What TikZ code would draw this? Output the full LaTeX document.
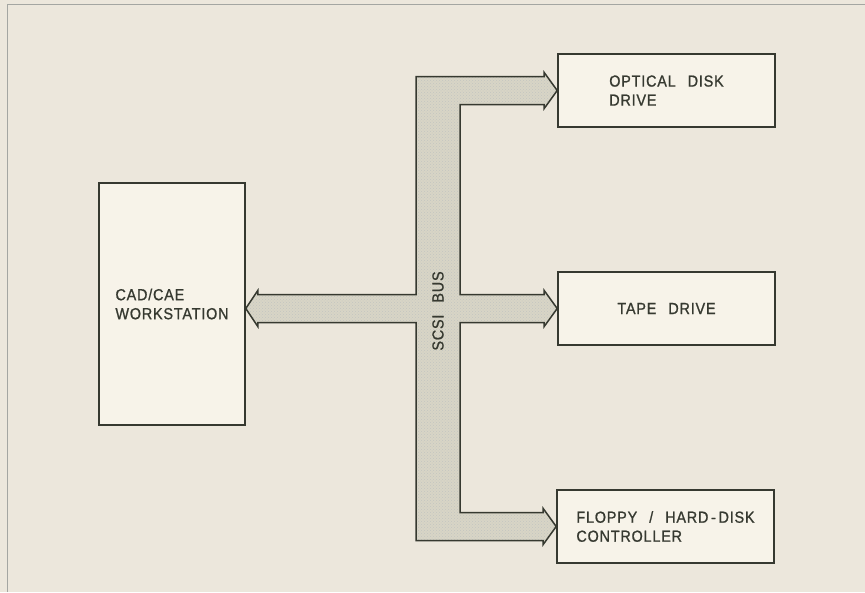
\documentclass[tikz,border=0pt]{standalone}
\usepackage{fontspec}
\newfontfamily\labelfont{Liberation Sans}[LetterSpace=5,WordSpace=2.5,FakeStretch=0.9,FakeBold=1]
\usetikzlibrary{backgrounds,calc,patterns}
\definecolor{paper}{RGB}{236,231,220}
\definecolor{boxfill}{RGB}{247,243,233}
\definecolor{busfill}{RGB}{216,213,198}
\definecolor{ink}{RGB}{54,57,48}

\begin{document}
\begin{tikzpicture}[x=1pt,y=-1pt,
  unit/.style={draw=ink,fill=boxfill,line width=1.6pt,minimum width=217pt,minimum height=73pt,
    align=left,text=ink,font=\labelfont\fontsize{16}{19}\selectfont},
  bus/.style={draw=ink,line width=1.5pt,line join=miter,preaction={fill=busfill},
    pattern=crosshatch dots,pattern color=ink!30}]
\useasboundingbox (0,0) rectangle (865,592);
\node[unit,minimum width=146pt,minimum height=242pt] (ws) at (172,304) {CAD/CAE\\WORKSTATION};
\node[unit] (opt) at (666.5,90.5) {OPTICAL DISK\\DRIVE};
\node[unit] (tape) at (666.5,308.5) {TAPE DRIVE};
\node[unit] (fdc) at (665.5,526.5) {FLOPPY / HARD\,-\,DISK\\CONTROLLER};
\coordinate (bl) at (416,0);
\coordinate (br) at (460,0);
\coordinate (wtip) at (ws.east |- tape.west);
\begin{scope}[on background layer]
\fill[paper] (0,0) rectangle (865,592);
\draw[ink!45,line width=.8pt] (7,592)--(7,4)--(865,4);
% the bus
\draw[bus] ($(bl|-opt.west)+(0,-14)$) -- ($(opt.west)+(-13,-14)$) -- ++(0,-4) -- (opt.west) -- ++(-13,18) -- ++(0,-4)
  -- ($(br|-opt.west)+(0,14)$) -- ($(br|-tape.west)+(0,-14)$)
  -- ($(tape.west)+(-13,-14)$) -- ++(0,-4) -- (tape.west) -- ++(-13,18) -- ++(0,-4)
  -- ($(br|-tape.west)+(0,14)$) -- ($(br|-fdc.west)+(0,-14)$)
  -- ($(fdc.west)+(-13,-14)$) -- ++(0,-4) -- (fdc.west) -- ++(-13,18) -- ++(0,-4)
  -- ($(bl|-fdc.west)+(0,14)$) -- ($(bl|-tape.west)+(0,14)$)
  -- ($(wtip)+(12,14)$) -- ++(0,4) -- (wtip) -- ++(12,-18) -- ++(0,4)
  -- ($(bl|-tape.west)+(0,-14)$) -- cycle;
\end{scope}
\node[rotate=90,text=ink,font=\labelfont\fontsize{16}{19}\selectfont] (buslabel) at (438,311) {SCSI BUS};
\end{tikzpicture}
\end{document}
